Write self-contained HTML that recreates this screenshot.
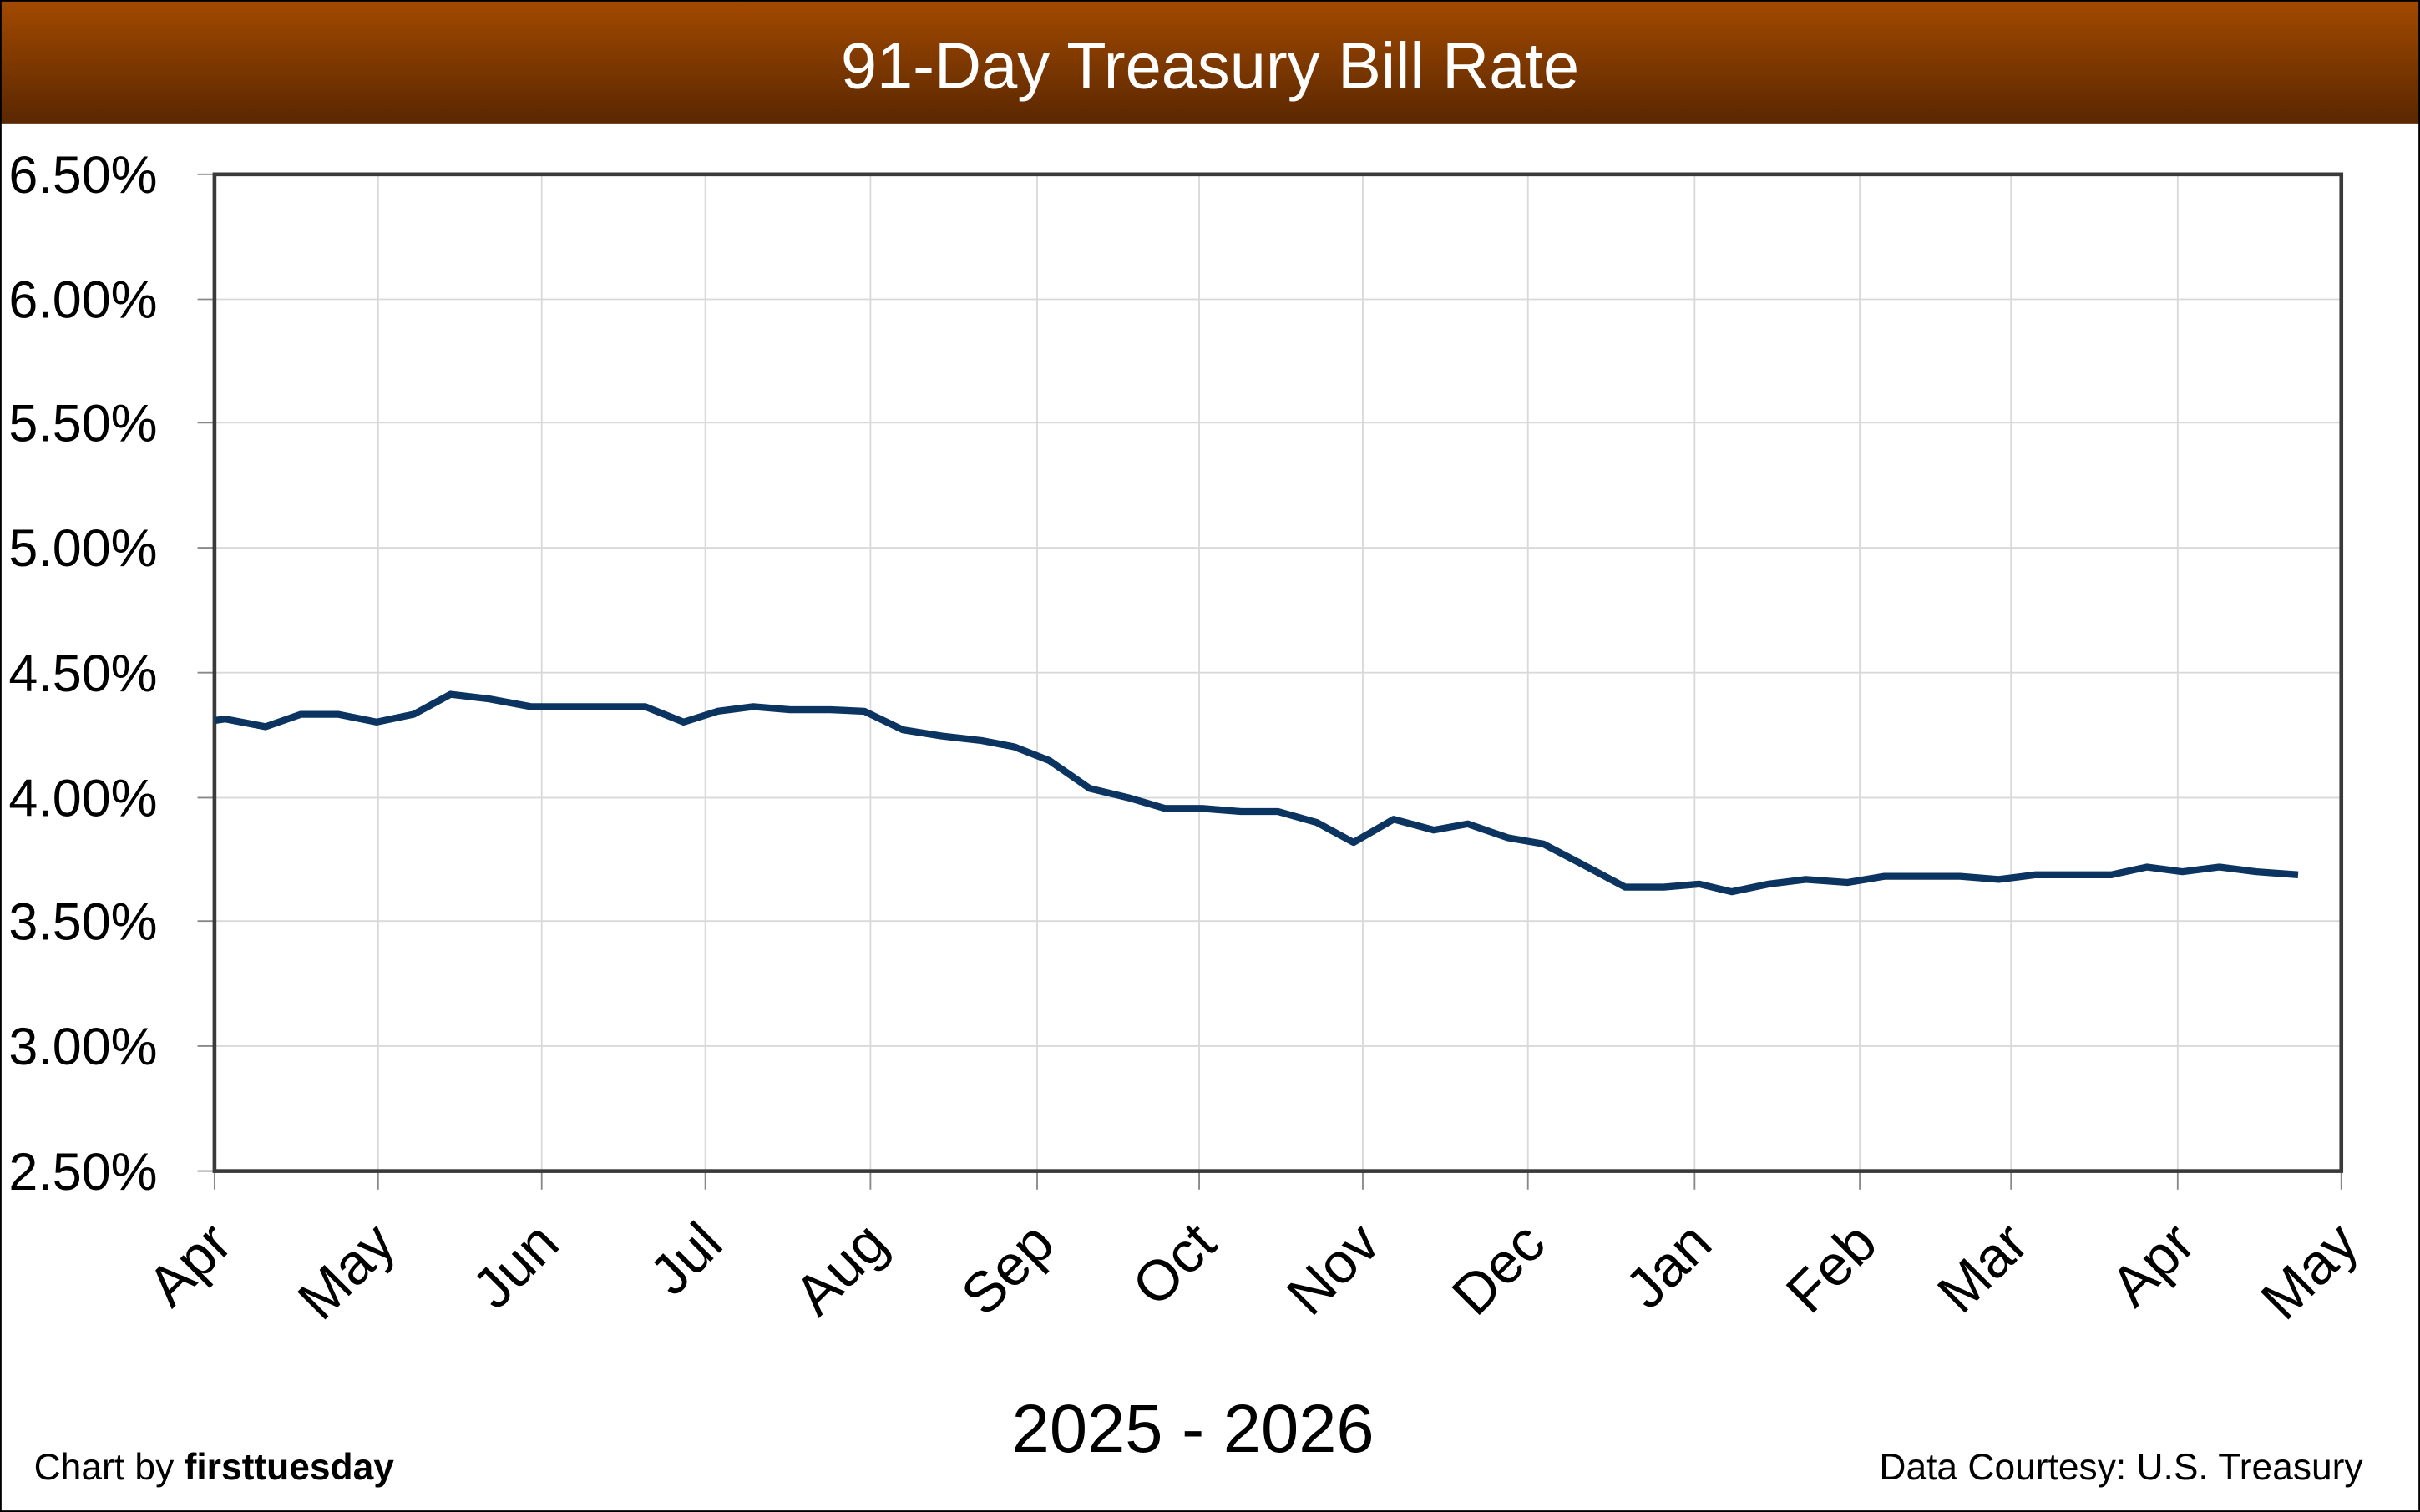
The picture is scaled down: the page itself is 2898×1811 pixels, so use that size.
<!DOCTYPE html>
<html><head><meta charset="utf-8"><style>
html,body{margin:0;padding:0;background:#fff}
svg{display:block}
text{font-family:"Liberation Sans",sans-serif}
</style></head><body>
<svg width="2898" height="1811" viewBox="0 0 1568 980" preserveAspectRatio="none" xmlns="http://www.w3.org/2000/svg">
<defs><linearGradient id="g" x1="0" y1="0" x2="0" y2="1"><stop offset="0" stop-color="#a34a00"/><stop offset="1" stop-color="#5a2700"/></linearGradient></defs>
<rect x="0" y="0" width="1568" height="980" fill="#fff"/>
<rect x="0" y="0" width="1568" height="80" fill="url(#g)"/>
<rect x="0.5" y="0.5" width="1567" height="979" fill="none" stroke="#000" stroke-width="1"/>
<text x="784" y="57" font-size="42" fill="#fff" text-anchor="middle">91-Day Treasury Bill Rate</text>
<g stroke="#d9d9d9" stroke-width="1">
<line x1="139" y1="194" x2="1517" y2="194"/><line x1="139" y1="274" x2="1517" y2="274"/><line x1="139" y1="355" x2="1517" y2="355"/><line x1="139" y1="436" x2="1517" y2="436"/><line x1="139" y1="517" x2="1517" y2="517"/><line x1="139" y1="597" x2="1517" y2="597"/><line x1="139" y1="678" x2="1517" y2="678"/>
<line x1="245" y1="113" x2="245" y2="759"/><line x1="351" y1="113" x2="351" y2="759"/><line x1="457" y1="113" x2="457" y2="759"/><line x1="564" y1="113" x2="564" y2="759"/><line x1="672" y1="113" x2="672" y2="759"/><line x1="777" y1="113" x2="777" y2="759"/><line x1="883" y1="113" x2="883" y2="759"/><line x1="990" y1="113" x2="990" y2="759"/><line x1="1098" y1="113" x2="1098" y2="759"/><line x1="1205" y1="113" x2="1205" y2="759"/><line x1="1303" y1="113" x2="1303" y2="759"/><line x1="1411" y1="113" x2="1411" y2="759"/>
</g>
<g stroke="#888" stroke-width="1">
<line x1="128" y1="113" x2="139" y2="113"/><line x1="128" y1="194" x2="139" y2="194"/><line x1="128" y1="274" x2="139" y2="274"/><line x1="128" y1="355" x2="139" y2="355"/><line x1="128" y1="436" x2="139" y2="436"/><line x1="128" y1="517" x2="139" y2="517"/><line x1="128" y1="597" x2="139" y2="597"/><line x1="128" y1="678" x2="139" y2="678"/><line x1="128" y1="759" x2="139" y2="759"/>
<line x1="139" y1="759" x2="139" y2="771"/><line x1="245" y1="759" x2="245" y2="771"/><line x1="351" y1="759" x2="351" y2="771"/><line x1="457" y1="759" x2="457" y2="771"/><line x1="564" y1="759" x2="564" y2="771"/><line x1="672" y1="759" x2="672" y2="771"/><line x1="777" y1="759" x2="777" y2="771"/><line x1="883" y1="759" x2="883" y2="771"/><line x1="990" y1="759" x2="990" y2="771"/><line x1="1098" y1="759" x2="1098" y2="771"/><line x1="1205" y1="759" x2="1205" y2="771"/><line x1="1303" y1="759" x2="1303" y2="771"/><line x1="1411" y1="759" x2="1411" y2="771"/><line x1="1517" y1="759" x2="1517" y2="771"/>
</g>
<rect x="139" y="113" width="1378" height="646" fill="none" stroke="#3a3a3a" stroke-width="2.5"/>
<g font-size="34" fill="#000" text-anchor="end">
<text x="102" y="125">6.50%</text><text x="102" y="206">6.00%</text><text x="102" y="286">5.50%</text><text x="102" y="367">5.00%</text><text x="102" y="448">4.50%</text><text x="102" y="529">4.00%</text><text x="102" y="609">3.50%</text><text x="102" y="690">3.00%</text><text x="102" y="771">2.50%</text>
</g>
<g font-size="37" fill="#000" text-anchor="end">
<text transform="translate(152,808) rotate(-45)">Apr</text>
<text transform="translate(258,808) rotate(-45)">May</text>
<text transform="translate(364,808) rotate(-45)">Jun</text>
<text transform="translate(470,808) rotate(-45)">Jul</text>
<text transform="translate(577,808) rotate(-45)">Aug</text>
<text transform="translate(685,808) rotate(-45)">Sep</text>
<text transform="translate(790,808) rotate(-45)">Oct</text>
<text transform="translate(896,808) rotate(-45)">Nov</text>
<text transform="translate(1003,808) rotate(-45)">Dec</text>
<text transform="translate(1111,808) rotate(-45)">Jan</text>
<text transform="translate(1218,808) rotate(-45)">Feb</text>
<text transform="translate(1316,808) rotate(-45)">Mar</text>
<text transform="translate(1424,808) rotate(-45)">Apr</text>
<text transform="translate(1530,808) rotate(-45)">May</text>
</g>
<polyline fill="none" stroke="#0b3461" stroke-width="4.5" stroke-linejoin="round" points="139,467 146,466 172,471 195,463 219,463 244,468 268,463 292,450 317,453 344,458 370,458 395,458 418,458 443,468 465,461 488,458 512,460 538,460 560,461 585,473 610,477 636,480 657,484 680,493 706,511 731,517 755,524 779,524 804,526 828,526 853,533 877,546 903,531 929,538 951,534 977,543 1000,547 1023,559 1053,575 1078,575 1101,573 1122,578 1146,573 1170,570 1197,572 1221,568 1246,568 1270,568 1295,570 1319,567 1343,567 1368,567 1391,562 1414,565 1438,562 1462,565 1489,567"/>
<text x="773" y="941" font-size="44" text-anchor="middle">2025 - 2026</text>
<text x="22" y="959" font-size="24">Chart by <tspan font-weight="bold">firsttuesday</tspan></text>
<text x="1531" y="959" font-size="24" text-anchor="end">Data Courtesy: U.S. Treasury</text>
</svg>
</body></html>
